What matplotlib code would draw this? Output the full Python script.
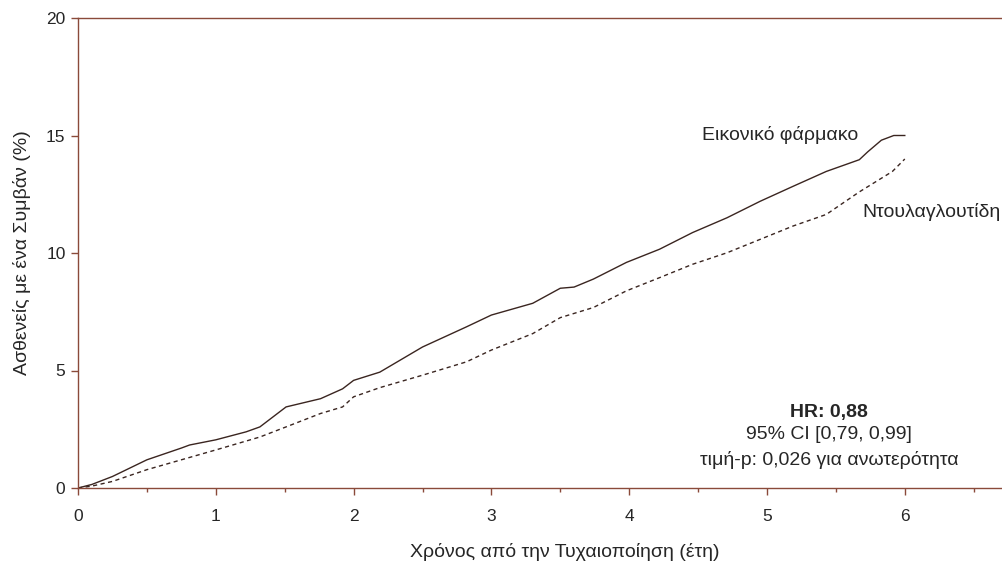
import matplotlib
matplotlib.use("Agg")
import matplotlib.pyplot as plt
from matplotlib.ticker import MultipleLocator

plt.rcParams['font.family'] = ['Liberation Sans', 'DejaVu Sans']

# Cumulative incidence (years, %)
placebo_t = [0, 0.1, 0.25, 0.5, 0.75, 0.81, 1.0, 1.22, 1.32, 1.51, 1.76, 1.92, 2.0,
             2.19, 2.5, 2.82, 3.0, 3.3, 3.5, 3.6, 3.74, 3.98, 4.22, 4.46, 4.71, 4.95,
             5.19, 5.43, 5.67, 5.73, 5.83, 5.92, 6.0]
placebo_v = [0, 0.15, 0.49, 1.2, 1.7, 1.83, 2.05, 2.39, 2.6, 3.45, 3.8, 4.22, 4.58,
             4.93, 6.0, 6.86, 7.36, 7.86, 8.5, 8.55, 8.89, 9.6, 10.16, 10.87, 11.5, 12.2,
             12.84, 13.47, 13.97, 14.3, 14.8, 15.0, 15.0]

dula_t = [0, 0.1, 0.25, 0.5, 0.75, 1.0, 1.32, 1.51, 1.76, 1.92, 2.0, 2.19, 2.5,
          2.82, 3.0, 3.3, 3.5, 3.74, 3.98, 4.22, 4.46, 4.71, 4.95, 5.19, 5.43,
          5.67, 5.91, 6.0]
dula_v = [0, 0.08, 0.28, 0.78, 1.2, 1.62, 2.17, 2.6, 3.17, 3.45, 3.88, 4.27, 4.8,
          5.37, 5.87, 6.57, 7.25, 7.68, 8.39, 8.95, 9.52, 10.01, 10.58, 11.15, 11.64,
          12.6, 13.47, 14.0]

x_ticks = [0, 1, 2, 3, 4, 5, 6]
y_ticks = [0, 5, 10, 15, 20]

spine_col = '#8a4a3a'
line_col = '#3a2520'
text_col = '#262626'

fig = plt.figure(figsize=(10.02, 5.67), dpi=100)
ax = fig.add_axes([78 / 1002, 1 - 488 / 567, 923 / 1002, 470 / 567])

ax.plot(placebo_t, placebo_v, color=line_col, linewidth=1.0, linestyle='-')
ax.plot(dula_t, dula_v, color=line_col, linewidth=1.0, linestyle=(0, (3, 2.5)))

ax.set_xlim(0, 923 / 137.8)
ax.set_ylim(0, 20)
ax.set_xticks(x_ticks)
ax.set_yticks(y_ticks)
ax.xaxis.set_minor_locator(MultipleLocator(0.5))

for side in ['left', 'bottom', 'top']:
    ax.spines[side].set_color(spine_col)
    ax.spines[side].set_linewidth(1.0)
ax.spines['right'].set_visible(False)

ax.tick_params(axis='both', which='major', direction='out', length=5, width=1,
               color=spine_col, labelsize=12.5, labelcolor=text_col, pad=4)
ax.tick_params(axis='x', which='minor', direction='out', length=3, width=1, color=spine_col)
ax.tick_params(axis='x', which='major', pad=10)

ax.set_xlabel('Χρόνος από την Τυχαιοποίηση (έτη)', fontsize=14, color=text_col)
ax.xaxis.set_label_coords(0.527, -0.116)
ax.set_ylabel('Ασθενείς με ένα Συμβάν (%)', fontsize=14, color=text_col)
ax.yaxis.set_label_coords(-0.051, 0.50)

ax.text(5.66, 15.0, 'Εικονικό φάρμακο', ha='right', va='center', fontsize=14, color=text_col)
ax.text(5.69, 11.74, 'Ντουλαγλουτίδη', ha='left', va='center', fontsize=14, color=text_col)

ax.text(5.45, 3.22, 'HR: 0,88', ha='center', va='center', fontsize=14,
        fontweight='bold', color=text_col)
ax.text(5.45, 2.26, '95% CI [0,79, 0,99]', ha='center', va='center', fontsize=14, color=text_col)
ax.text(5.45, 1.2, 'τιμή-p: 0,026 για ανωτερότητα', ha='center', va='center',
        fontsize=14, color=text_col)

fig.savefig('out.png', dpi=100)
